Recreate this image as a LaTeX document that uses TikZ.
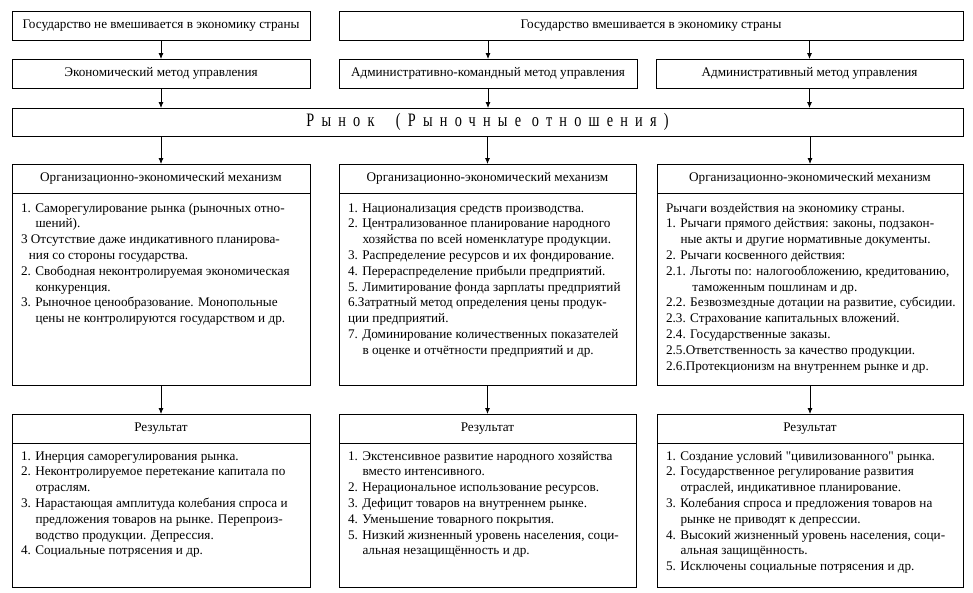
\documentclass[tikz,border=0pt]{standalone}
\usepackage{fontspec}
\setmainfont{Liberation Serif}[Ligatures=TeXOff]
\newfontfamily\spacedfont[LetterSpace=38,FakeStretch=0.75]{Liberation Serif}
\usetikzlibrary{positioning,arrows.meta}

\newcommand{\contline}{\\\hspace*{1.1em}}
\newcommand{\boxbody}[4]{\parbox[c][#1][t]{#2}{\vspace*{#3}\begin{tabular}[t]{@{}l@{}}#4\end{tabular}}}

\begin{document}
\begin{tikzpicture}[x=1pt,y=1pt,
	box/.style={draw, line width=0.8pt, inner sep=0pt, outer sep=0pt, minimum height=29pt, font=\fontsize{13.2}{15}\selectfont},
	body/.style={draw, line width=0.8pt, inner xsep=9pt, inner ysep=0pt, outer sep=0pt, font=\fontsize{13.2}{15.8}\selectfont},
	arr/.style={line width=0.8pt, -{Latex[length=6pt,width=5pt]}}]
	
	\useasboundingbox (0,0) rectangle (973,-592);
	
	% state position
	\node [box, minimum width=298pt] (free) at (161,-25.5) {Государство не вмешивается в экономику страны};
	\node [box, minimum width=624pt] (state) at (651,-25.5) {Государство вмешивается в экономику страны};
	
	% methods
	\node [box, minimum width=298pt] (econ) at (161,-73.5) {Экономический метод управления};
	\node [box, minimum width=298pt] (command) at (488,-73.5) {Административно-командный метод управления};
	\node [box, minimum width=307pt] (admin) at (809.5,-73.5) {Административный метод управления};
	
	% market
	\node [box, minimum width=951pt, minimum height=28pt, font=\spacedfont\fontsize{19}{20}\selectfont] (market) at (487.5,-122) {Рынок \ (Рыночные отношения)};
	
	% mechanisms
	\node [box, minimum width=298pt] (mechL) at (161,-178.5) {Организационно-экономический механизм};
	\node [body, below=0pt of mechL] (mechLtext) {\boxbody{192pt}{280pt}{8pt}{%
		1. Саморегулирование рынка (рыночных отно-\contline шений).\\
		3 Отсутствие даже индикативного планирова-\\\hspace*{0.6em}ния со стороны государства.\\
		2. Свободная неконтролируемая экономическая\contline конкуренция.\\
		3. Рыночное ценообразование. Монопольные\contline цены не контролируются государством и др.}};
	
	\node [box, minimum width=297pt] (mechC) at (487.5,-178.5) {Организационно-экономический механизм};
	\node [body, below=0pt of mechC] (mechCtext) {\boxbody{192pt}{279pt}{8pt}{%
		1. Национализация средств производства.\\
		2. Централизованное планирование народного\contline хозяйства по всей номенклатуре продукции.\\
		3. Распределение ресурсов и их фондирование.\\
		4. Перераспределение прибыли предприятий.\\
		5. Лимитирование фонда зарплаты предприятий\\
		6.Затратный метод определения цены продук-\\
		ции предприятий.\\
		7. Доминирование количественных показателей\contline в оценке и отчётности предприятий и др.}};
	
	\node [box, minimum width=306pt] (mechR) at (810,-178.5) {Организационно-экономический механизм};
	\node [body, below=0pt of mechR] (mechRtext) {\boxbody{192pt}{288pt}{8pt}{%
		Рычаги воздействия на экономику страны.\\
		1. Рычаги прямого действия: законы, подзакон-\contline ные акты и другие нормативные документы.\\
		2. Рычаги косвенного действия:\\
		2.1. Льготы по: налогообложению, кредитованию,\\\hspace*{2em}таможенным пошлинам и др.\\
		2.2. Безвозмездные дотации на развитие, субсидии.\\
		2.3. Страхование капитальных вложений.\\
		2.4. Государственные заказы.\\
		2.5.Ответственность за качество продукции.\\
		2.6.Протекционизм на внутреннем рынке и др.}};
	
	% results
	\node [box, minimum width=298pt] (resL) at (161,-428.5) {Результат};
	\node [body, below=0pt of resL] (resLtext) {\boxbody{144pt}{280pt}{6pt}{%
		1. Инерция саморегулирования рынка.\\
		2. Неконтролируемое перетекание капитала по\contline отраслям.\\
		3. Нарастающая амплитуда колебания спроса и\contline предложения товаров на рынке. Перепроиз-\contline водство продукции. Депрессия.\\
		4. Социальные потрясения и др.}};
	
	\node [box, minimum width=297pt] (resC) at (487.5,-428.5) {Результат};
	\node [body, below=0pt of resC] (resCtext) {\boxbody{144pt}{279pt}{6pt}{%
		1. Экстенсивное развитие народного хозяйства\contline вместо интенсивного.\\
		2. Нерациональное использование ресурсов.\\
		3. Дефицит товаров на внутреннем рынке.\\
		4. Уменьшение товарного покрытия.\\
		5. Низкий жизненный уровень населения, соци-\contline альная незащищённость и др.}};
	
	\node [box, minimum width=306pt] (resR) at (810,-428.5) {Результат};
	\node [body, below=0pt of resR] (resRtext) {\boxbody{144pt}{288pt}{6pt}{%
		1. Создание условий "цивилизованного" рынка.\\
		2. Государственное регулирование развития\contline отраслей, индикативное планирование.\\
		3. Колебания спроса и предложения товаров на\contline рынке не приводят к депрессии.\\
		4. Высокий жизненный уровень населения, соци-\contline альная защищённость.\\
		5. Исключены социальные потрясения и др.}};
	
	% arrows
	\draw [arr] (free) -- (econ);
	\draw [arr] (state.south -| command) -- (command);
	\draw [arr] (state.south -| admin) -- (admin);
	\draw [arr] (econ) -- (econ |- market.north);
	\draw [arr] (command) -- (command |- market.north);
	\draw [arr] (admin) -- (admin |- market.north);
	\draw [arr] (market.south -| mechL) -- (mechL);
	\draw [arr] (market.south -| mechC) -- (mechC);
	\draw [arr] (market.south -| mechR) -- (mechR);
	\draw [arr] (mechLtext) -- (resL);
	\draw [arr] (mechCtext) -- (resC);
	\draw [arr] (mechRtext) -- (resR);
	
\end{tikzpicture}
\end{document}
